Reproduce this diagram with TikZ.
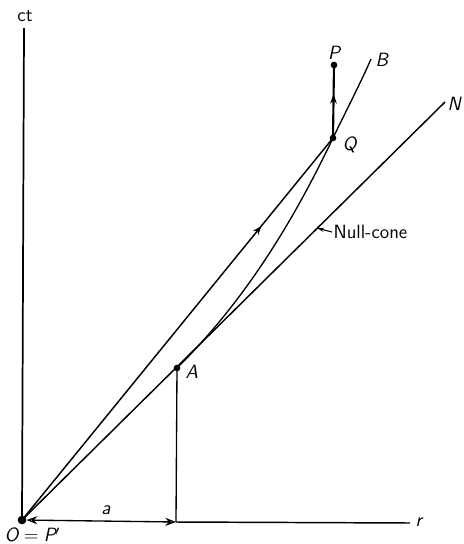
\documentclass[tikz,border=0pt]{standalone}
\usepackage{amsmath,amssymb}
\usepackage{tikz}
\usetikzlibrary{arrows.meta,calc,decorations.markings}

\tikzset{
  dot/.style={circle,fill,inner sep=0pt,minimum size=5pt},
  lbl/.style={font=\sffamily\itshape\Large,inner sep=1pt},
  midarrow/.style={postaction={decorate},decoration={markings,
    mark=at position #1 with {\arrow{Stealth[length=7pt,width=5pt]}}}}
}

\begin{document}
\begin{tikzpicture}[x=0.75pt,y=0.75pt,yscale=-1,xscale=1]
\useasboundingbox (0,0) rectangle (464,544);

% events
\node[dot,minimum size=6.5pt] (O) at (22,520) {};
\node[dot] (A) at (177,368) {};
\node[dot] (Q) at (333,138) {};
\node[dot] (P) at (334,65) {};
\coordinate (ctend) at (24,28);
\coordinate (rend) at (410,523);
\coordinate (foot) at (176,522);
\coordinate (Nend) at (445,102);
\coordinate (Bend) at (371,59);
\coordinate (ncpt) at ($(O.center)!0.698!(Nend)$);

% axes
\draw[line width=1.3pt] (O.center) -- (ctend);
\draw[line width=1.1pt] (foot) -- (rend);
\draw[line width=1pt,{Stealth[length=8pt,width=6pt,open]}-{Stealth[length=8pt,width=6pt,open]}] (O) -- (foot);
\draw[line width=1pt] (A.center) -- (foot);

% null cone and world lines
\draw[line width=1.1pt] (O.center) -- (Nend);
\draw[line width=1.1pt,midarrow=0.77] (O.center) -- (Q.center);
\draw[line width=1pt] (A.center) .. controls (252,294) and (300,207) .. (Q.center)
   .. controls (347,109) and (362,80) .. (Bend);
\draw[line width=1.6pt,midarrow=0.6] (Q.center) -- (P.center);

% labels
\node[lbl,font=\sffamily\Large] at (25,16) {ct};
\node[lbl,anchor=west] at (414,522) {r};
\node[lbl,anchor=west] at (446,104) {N};
\node[lbl,anchor=west] at (374,60) {B};
\node[lbl,anchor=south] at (P.north) {P};
\node[lbl,anchor=west] at (341,145) {Q};
\node[lbl,anchor=west] at (184,372) {A};
\node[lbl] at (106,510) {a};
\node[lbl,anchor=north west] at (3,526) {O${}={}$P$'$};
\node[lbl,font=\sffamily\Large,anchor=west] (nc) at (332,232) {Null-cone};
\draw[line width=0.8pt,-{Stealth[length=5pt,width=3pt]}] (nc.west) -- (ncpt);

\end{tikzpicture}
\end{document}
